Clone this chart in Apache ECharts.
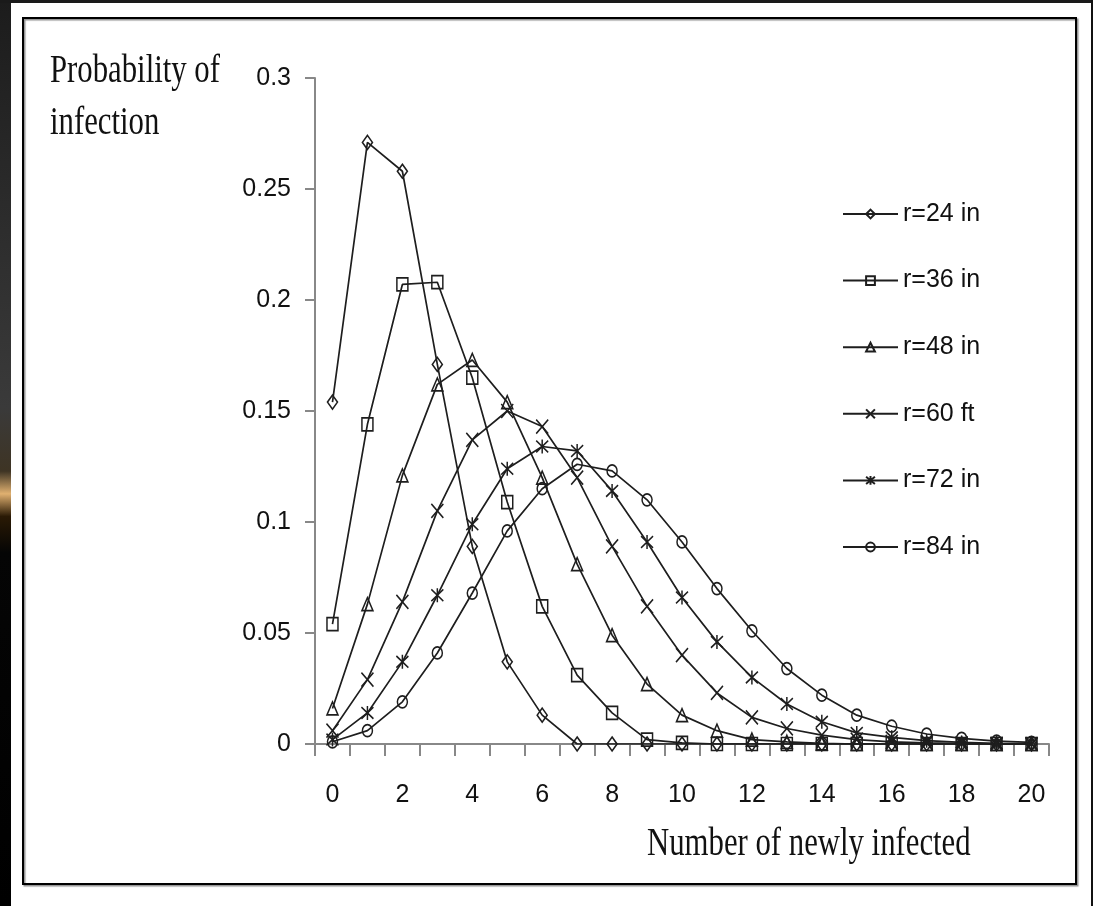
<!DOCTYPE html>
<html>
<head>
<meta charset="utf-8">
<style>
html,body{margin:0;padding:0;background:#fff;}
#chart{width:1093px;height:906px;}
</style>
<script src="https://cdn.jsdelivr.net/npm/echarts@6/dist/echarts.min.js"></script>
</head>
<body>
<div id="chart"></div>
<script>
const categories = ['0','1','2','3','4','5','6','7','8','9','10','11','12','13','14','15','16','17','18','19','20'];
const xTickLabels = ['0','2','4','6','8','10','12','14','16','18','20'];
const seriesNames = ['r=24 in','r=36 in','r=48 in','r=60 ft','r=72 in','r=84 in'];
const r24 = [0.154,0.271,0.258,0.171,0.089,0.037,0.013,0,0,0,0,0,0,0,0,0,0,0,0,0,0];
const r36 = [0.054,0.144,0.207,0.208,0.165,0.109,0.062,0.031,0.014,0.002,0.0005,0,0,0,0,0,0,0,0,0,0];
const r48 = [0.016,0.063,0.121,0.162,0.173,0.154,0.120,0.081,0.049,0.027,0.013,0.006,0.002,0.001,0.0003,0,0,0,0,0,0];
const r60 = [0.006,0.029,0.064,0.105,0.137,0.150,0.143,0.120,0.089,0.062,0.040,0.023,0.012,0.007,0.004,0.002,0.001,0.0005,0.0002,0.0001,0];
const r72 = [0.002,0.014,0.037,0.067,0.099,0.124,0.134,0.132,0.114,0.091,0.066,0.046,0.030,0.018,0.010,0.005,0.003,0.0015,0.0007,0.0003,0.0001];
const r84 = [0.001,0.006,0.019,0.041,0.068,0.096,0.115,0.126,0.123,0.110,0.091,0.070,0.051,0.034,0.022,0.013,0.008,0.0045,0.0025,0.0013,0.0007];
const seriesData = [r24, r36, r48, r60, r72, r84];

const symbols = [
  'diamond',
  'rect',
  'triangle',
  'path://M0,0L10,10M10,0L0,10',
  'path://M0,0L10,10M10,0L0,10M5,-1L5,11',
  'circle'
];
const symbolSizes = [[10,14],[11,13],[11,13],[12,14],[12,14],[10,12]];

const numFont = '"Liberation Sans",Arial,sans-serif';
const serif = '"Liberation Serif","DejaVu Serif",serif';
const lineColor = '#1e1e1e';

const chart = echarts.init(document.getElementById('chart'), null, {renderer:'canvas'});
const option = {
  animation: false,
  backgroundColor: '#fff',
  grid: {left: 315, top: 78, right: 44, bottom: 162, containLabel: false},
  xAxis: {
    type: 'category',
    data: categories,
    boundaryGap: true,
    axisLine: {lineStyle: {color: '#888', width: 2}},
    axisTick: {show: true, interval: 0, length: 12, lineStyle: {color: '#888', width: 2}},
    axisLabel: {
      interval: 0,
      margin: 39,
      fontFamily: numFont, fontSize: 25, color: '#111',
      formatter: function (v) { return xTickLabels.indexOf(v) >= 0 ? v : ''; }
    },
    splitLine: {show: false}
  },
  yAxis: {
    type: 'value',
    min: 0, max: 0.3, interval: 0.05,
    axisLine: {show: true, lineStyle: {color: '#888', width: 2}},
    axisTick: {show: true, length: 10, lineStyle: {color: '#888', width: 2}},
    axisLabel: {margin: 24, fontFamily: numFont, fontSize: 25, color: '#111',
      formatter: function (v) { return String(Math.round(v * 100) / 100); }},
    splitLine: {show: false}
  },
  legend: {
    orient: 'vertical',
    left: 842, top: 200, padding: 0,
    itemWidth: 55, itemHeight: 11, itemGap: 38.6,
    textStyle: {fontFamily: numFont, fontSize: 25, color: '#111', lineHeight: 28},
    data: seriesNames
  },
  series: seriesNames.map(function (name, i) {
    return {
      name: name,
      type: 'line',
      data: seriesData[i],
      symbol: symbols[i],
      symbolSize: symbolSizes[i],
      showAllSymbol: true,
      lineStyle: {color: lineColor, width: 1.7},
      itemStyle: {color: 'rgba(255,255,255,0)', borderColor: lineColor, borderWidth: 1.6},
      emphasis: {disabled: true}
    };
  }),
  graphic: [
    {type: 'rect', left: 0, top: 0, z: 100, shape: {width: 11, height: 906},
      style: {fill: new echarts.graphic.LinearGradient(0,0,0,1,[
        {offset:0,color:'#1c1c1c'},{offset:0.45,color:'#3a3a3a'},{offset:0.52,color:'#3e3424'},
        {offset:0.545,color:'#e0b070'},{offset:0.57,color:'#2a1a05'},{offset:0.61,color:'#050505'},{offset:1,color:'#000'}])}},
    {type: 'rect', left: 0, top: 0, z: 100, shape: {width: 1093, height: 3}, style: {fill: '#1a1a1a'}},
    {type: 'rect', left: 1091, top: 0, z: 100, shape: {width: 2, height: 906}, style: {fill: '#111'}},
    {type: 'rect', x: 23, y: 18, z: 90, shape: {width: 1053, height: 866},
      style: {fill: 'none', stroke: '#000', lineWidth: 2, shadowColor: 'rgba(0,0,0,0.45)', shadowOffsetX: 1.5, shadowOffsetY: 1.5, shadowBlur: 1}},
    {type: 'text', x: 50, y: 51, scaleX: 0.75, z: 50,
      style: {text: 'Probability of', font: '41px ' + serif, fill: '#111'}},
    {type: 'text', x: 50, y: 103, scaleX: 0.75, z: 50,
      style: {text: 'infection', font: '41px ' + serif, fill: '#111'}},
    {type: 'text', x: 647, y: 824, scaleX: 0.75, z: 50,
      style: {text: 'Number of newly infected', font: '41px ' + serif, fill: '#111'}}
  ]
};
chart.setOption(option);
</script>
</body>
</html>
